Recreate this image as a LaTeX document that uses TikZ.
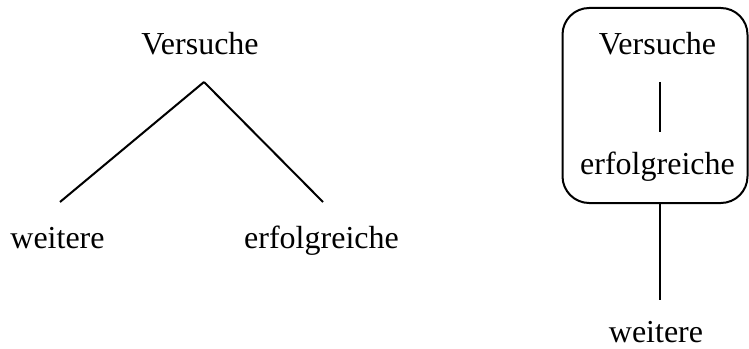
\documentclass[tikz,border=0pt]{standalone}
\usepackage{fontspec}
\setmainfont{Liberation Serif}
\usepackage{tikz}

\begin{document}
\begin{tikzpicture}[x=0.75pt,y=0.75pt,yscale=-1,xscale=1]
        \tikzset{word/.style={anchor=base,inner sep=0.75pt,font=\fontsize{24}{29}\selectfont},
                 stroke/.style={line width=1.5}}
        \useasboundingbox (0,0) rectangle (749,349);
        % tree on the left
        \node [word] (vers1) at (200,55) {Versuche};
        \node [word] (weit1) at (57.5,248) {weitere};
        \node [word] (erfo1) at (321.5,248) {erfolgreiche};
        \coordinate (apex) at (204,82);
        \coordinate (endw) at (60,202);
        \coordinate (ende) at (323,202);
        \draw [stroke]   (apex) -- (endw) ;
        \draw [stroke]   (apex) -- (ende) ;

        % grouped chain on the right
        \node [draw,stroke,rounded corners=20,minimum width=138.75,minimum height=146.25,inner sep=0pt] (box) at (655,105.5) {};
        \node [word] (vers2) at (657.5,55) {Versuche};
        \node [word] (erfo2) at (657.5,175) {erfolgreiche};
        \node [word] (weit2) at (656,342) {weitere};
        \coordinate (mtop) at (660,82);
        \coordinate (mbot) at (660,132);
        \coordinate (wtop) at (660,300);
        \draw [stroke]   (mtop) -- (mbot) ;
        \draw [stroke]   (box.south -| mtop) -- (wtop) ;
\end{tikzpicture}
\end{document}
